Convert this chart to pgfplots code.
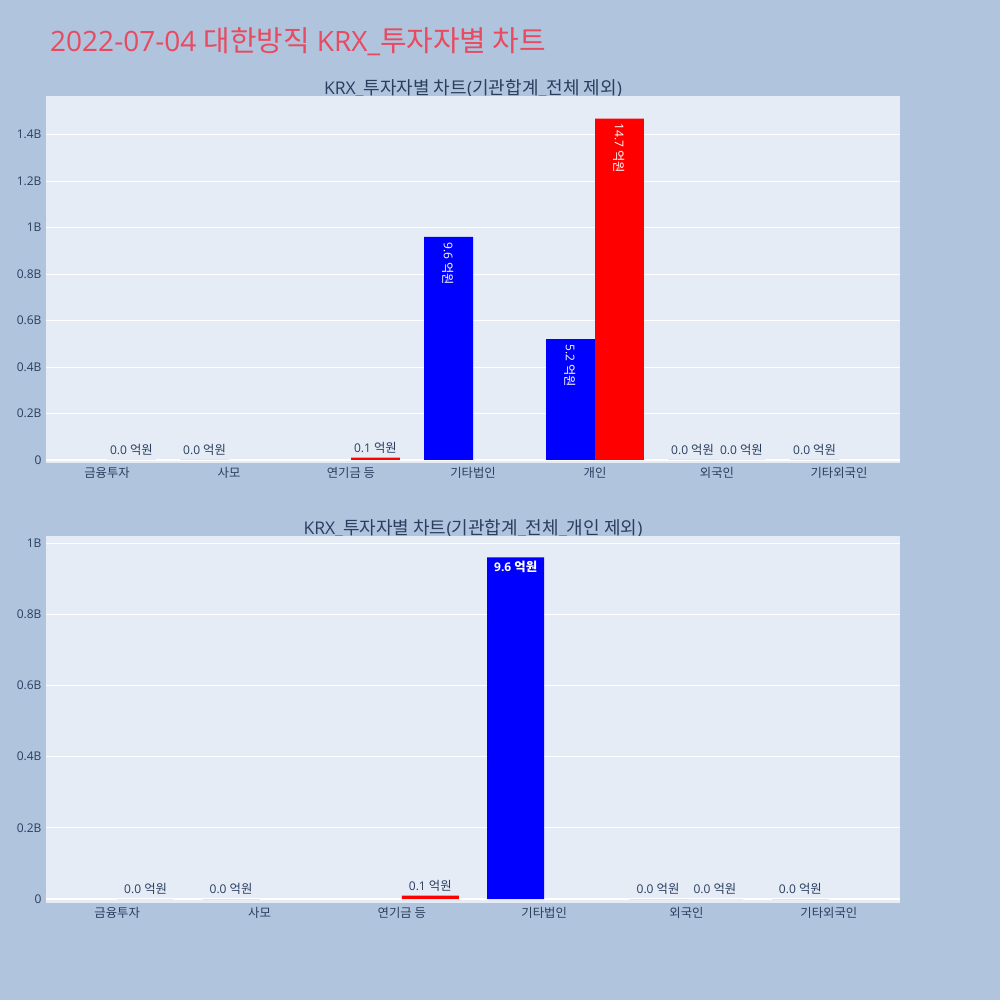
\documentclass[border=0pt]{standalone}
\usepackage{pgfplots}
\pgfplotsset{compat=1.18}
\usepackage{fontspec}
\setmainfont{Open Sans}
\newfontfamily\kr[Scale=1.03]{Noto Sans CJK KR}
\definecolor{bgc}{HTML}{B0C4DE}
\definecolor{plotbg}{HTML}{E5ECF6}
\definecolor{txt}{HTML}{2A3F5F}
\definecolor{ttl}{HTML}{E84A5F}
\definecolor{pblue}{HTML}{0000FF}
\definecolor{pred}{HTML}{FF0000}
\pgfplotsset{
  chart/.style={
    scale only axis, width=854pt, height=367pt, anchor=south west,
    axis background/.style={fill=plotbg},
    axis line style={draw=none},
    ymajorgrids, grid style={white, line width=1pt},
    major tick length=0pt,
    tick label style={text=txt, font=\fontsize{12}{14}\selectfont},
    yticklabel style={anchor=east, xshift=-1pt},
    xticklabel style={anchor=north, yshift=-1pt, font=\kr\fontsize{12}{14}\selectfont},
    extra y ticks={0}, extra y tick labels={0},
    extra y tick style={grid style={white, line width=2pt}},
    clip=false,
  },
  bluebar/.style={ybar, bar width=0.4, bar shift=-0.2, fill=pblue, draw=none},
  redbar/.style={ybar, bar width=0.4, bar shift=0.2, fill=pred, draw=none},
}
\tikzset{
  outlbl/.style={anchor=base, text=txt, font=\fontsize{12}{14}\selectfont, inner sep=0pt, yshift=5.5pt},
  inlbl/.style={yshift=-5pt, rotate=-90, anchor=west, text=white, font=\fontsize{12}{14}\selectfont, inner sep=0pt},
}
\newcommand{\eok}[1]{#1 {\kr 억원}}
\begin{document}
\begin{tikzpicture}[x=1pt,y=1pt]
\fill[bgc] (0,0) rectangle (1000,1000);
\node[anchor=base west, text=ttl, font=\fontsize{28}{32}\selectfont, inner sep=0pt] at (50,948) {2022-07-04 {\kr 대한방직} KRX\_{\kr 투자자별 차트}};
\node[anchor=base, text=txt, font=\fontsize{17.5}{20}\selectfont, inner sep=0pt] at (473,905) {KRX\_{\kr 투자자별 차트}({\kr 기관합계}\_{\kr 전체 제외})};
\node[anchor=base, text=txt, font=\fontsize{17.5}{20}\selectfont, inner sep=0pt] at (473,465) {KRX\_{\kr 투자자별 차트}({\kr 기관합계}\_{\kr 전체}\_{\kr 개인 제외})};

\begin{axis}[chart, at={(46pt,537pt)},
  xmin=-0.5, xmax=6.5, ymin=-0.013, ymax=1.567,
  xtick={0,1,2,3,4,5,6},
  xticklabels={금융투자,사모,연기금 등,기타법인,개인,외국인,기타외국인},
  ytick={0.2,0.4,0.6,0.8,1,1.2,1.4},
  yticklabels={0.2B,0.4B,0.6B,0.8B,1B,1.2B,1.4B}]
\addplot[bluebar] coordinates {(1,0) (3,0.96) (4,0.52) (5,0) (6,0)};
\addplot[redbar] coordinates {(0,0) (2,0.01) (4,1.47) (5,0)};
\node[outlbl] at (axis cs:0.2,0) {\eok{0.0}};
\node[outlbl] at (axis cs:0.8,0) {\eok{0.0}};
\node[outlbl] at (axis cs:2.2,0.01) {\eok{0.1}};
\node[outlbl] at (axis cs:4.8,0) {\eok{0.0}};
\node[outlbl] at (axis cs:5.2,0) {\eok{0.0}};
\node[outlbl] at (axis cs:5.8,0) {\eok{0.0}};
\node[inlbl] at (axis cs:2.8,0.96) {\eok{9.6}};
\node[inlbl] at (axis cs:3.8,0.52) {\eok{5.2}};
\node[inlbl] at (axis cs:4.2,1.47) {\eok{14.7}};
\end{axis}

\begin{axis}[chart, at={(46pt,97pt)},
  xmin=-0.5, xmax=5.5, ymin=-0.011, ymax=1.02,
  xtick={0,1,2,3,4,5},
  xticklabels={금융투자,사모,연기금 등,기타법인,외국인,기타외국인},
  ytick={0.2,0.4,0.6,0.8,1},
  yticklabels={0.2B,0.4B,0.6B,0.8B,1B}]
\addplot[bluebar] coordinates {(1,0) (3,0.96) (4,0) (5,0)};
\addplot[redbar] coordinates {(0,0) (2,0.01) (4,0)};
\node[outlbl] at (axis cs:0.2,0) {\eok{0.0}};
\node[outlbl] at (axis cs:0.8,0) {\eok{0.0}};
\node[outlbl] at (axis cs:2.2,0.01) {\eok{0.1}};
\node[outlbl] at (axis cs:3.8,0) {\eok{0.0}};
\node[outlbl] at (axis cs:4.2,0) {\eok{0.0}};
\node[outlbl] at (axis cs:4.8,0) {\eok{0.0}};
\node[anchor=north, text=white, font=\bfseries\fontsize{12}{14}\selectfont, inner sep=0pt, yshift=-4pt] at (axis cs:2.8,0.96) {\eok{9.6}};
\end{axis}
\end{tikzpicture}
\end{document}
